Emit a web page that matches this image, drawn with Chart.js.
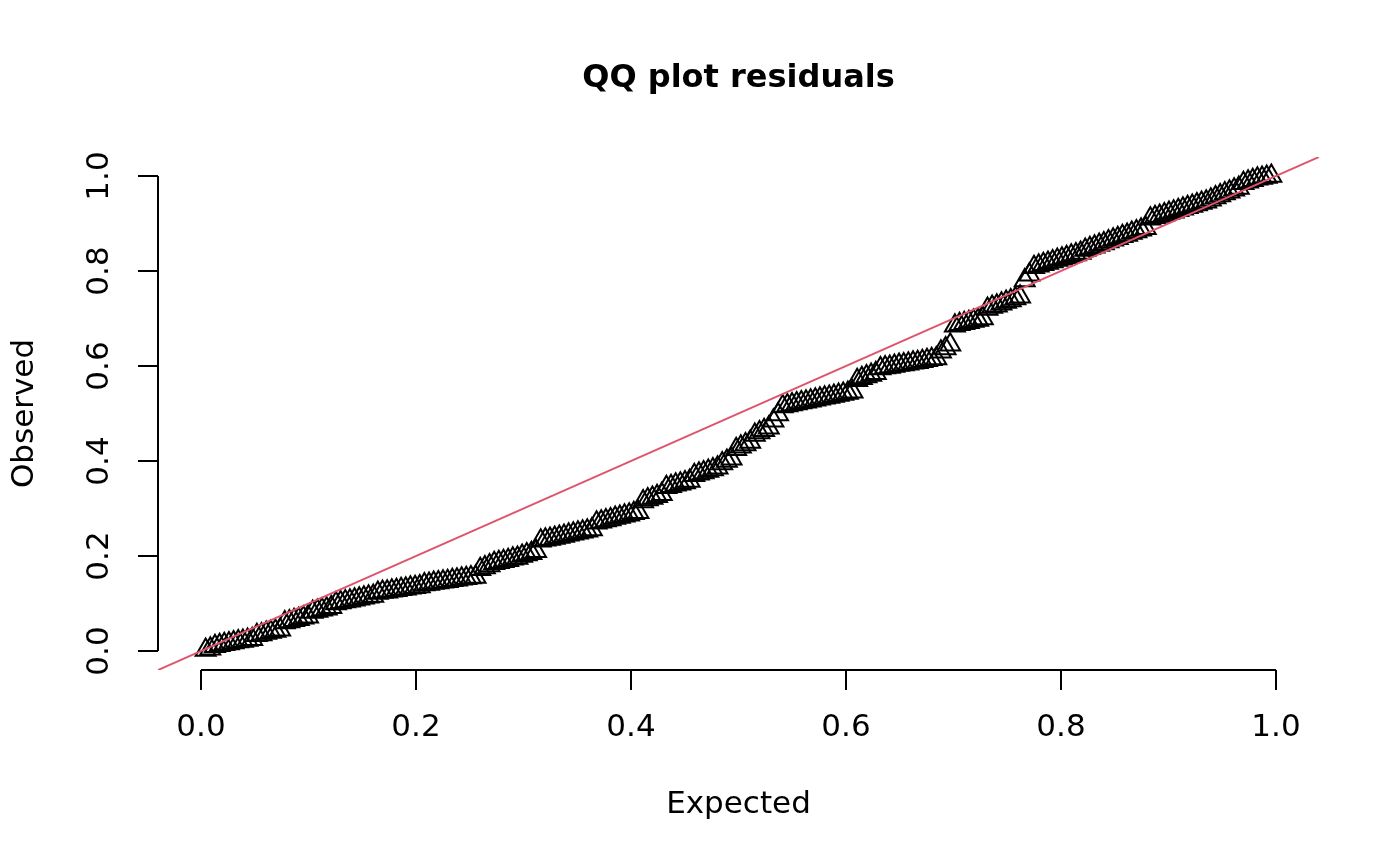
<!DOCTYPE html>
<html>
<head>
<meta charset="utf-8">
<title>QQ plot residuals</title>
<script src="https://cdn.jsdelivr.net/npm/chart.js@4.4.1/dist/chart.umd.min.js"></script>
<style>
    html, body { margin: 0; padding: 0; background: #fff; }
    #wrap { width: 1400px; height: 866px; }
</style>
</head>
<body>
<div id="wrap"><canvas id="qqChart" width="1400" height="866"></canvas></div>
<script>
// Sorted scaled residuals
const observed = [
    0.002, 0.005,
    0.010, 0.012, 0.014, 0.016, 0.018, 0.020, 0.021, 0.023, 0.025,
    0.033, 0.035, 0.038, 0.040, 0.042, 0.045,
    0.060, 0.062, 0.065, 0.067, 0.070, 0.072,
    0.082, 0.084, 0.087, 0.089, 0.092,
    0.100, 0.102, 0.104, 0.106, 0.108, 0.110, 0.112, 0.114, 0.116,
    0.122, 0.124, 0.125, 0.127, 0.128, 0.130, 0.131, 0.133, 0.134, 0.136,
    0.140, 0.141, 0.143, 0.144, 0.146, 0.147, 0.149, 0.150, 0.152, 0.153, 0.155, 0.156,
    0.172, 0.176, 0.180,
    0.185, 0.187, 0.189, 0.191, 0.194, 0.196,
    0.200, 0.203, 0.206, 0.210,
    0.232, 0.234, 0.236, 0.238, 0.240, 0.242, 0.245, 0.247, 0.249, 0.251, 0.253, 0.256,
    0.270, 0.272, 0.275, 0.277, 0.280, 0.282, 0.285, 0.287, 0.290, 0.292,
    0.315, 0.319, 0.322, 0.326, 0.330,
    0.345, 0.347, 0.350, 0.352, 0.355, 0.358,
    0.370, 0.373, 0.376, 0.379, 0.382, 0.386,
    0.395, 0.400, 0.405,
    0.425, 0.430, 0.435, 0.440,
    0.455, 0.460, 0.465, 0.470,
    0.485, 0.498,
    0.515, 0.517, 0.519, 0.521, 0.523, 0.525, 0.527, 0.529, 0.531, 0.533, 0.535, 0.537, 0.539, 0.541, 0.543, 0.546,
    0.570, 0.574, 0.578, 0.581, 0.585,
    0.595, 0.597, 0.598, 0.600, 0.602, 0.603, 0.605, 0.607, 0.608, 0.610, 0.612, 0.614, 0.616,
    0.630, 0.637, 0.645,
    0.685, 0.688, 0.690, 0.692, 0.695, 0.697, 0.700,
    0.720, 0.724, 0.727, 0.731, 0.735, 0.738, 0.742, 0.746,
    0.780, 0.792,
    0.808, 0.811, 0.814, 0.817, 0.820, 0.823, 0.826, 0.829, 0.832, 0.835, 0.838,
    0.844, 0.848, 0.851, 0.855, 0.858, 0.862, 0.866, 0.869, 0.873, 0.876, 0.880, 0.883, 0.887, 0.890,
    0.910, 0.913, 0.916, 0.919, 0.922, 0.925, 0.928, 0.931, 0.934, 0.937, 0.940, 0.943, 0.946, 0.950,
    0.955, 0.959, 0.963, 0.967, 0.971, 0.975,
    0.985, 0.988, 0.991, 0.994, 0.996, 0.998, 1.000
];

const axisTicks = [0, 0.2, 0.4, 0.6, 0.8, 1.0];
const tickLabels = ['0.0', '0.2', '0.4', '0.6', '0.8', '1.0'];
const axisRange = [-0.04, 1.04];   // R pads the data range by 4%
const refLine = [-0.04, 1.04];     // abline(0, 1) across the plot region

const chartTitle = 'QQ plot residuals';
const xTitle = 'Expected';
const yTitle = 'Observed';

// expected uniform quantiles i/(n+1), the x of a uniform QQ plot
const n = observed.length;
const qqPoints = observed.map((v, i) => ({ x: (i + 1) / (n + 1), y: v }));

const FONT = '"DejaVu Sans", "Liberation Sans", sans-serif';

// Draws base-R style axes, labels and title
const baseGraphics = {
    id: 'baseGraphics',
    afterDraw(chart) {
        const { ctx, chartArea, scales: { x, y } } = chart;
        const left = chartArea.left;
        const bottom = chartArea.bottom;
        const tick = 20;

        ctx.save();
        ctx.strokeStyle = '#000';
        ctx.fillStyle = '#000';
        ctx.lineWidth = 2;

        // x axis
        ctx.beginPath();
        ctx.moveTo(x.getPixelForValue(axisTicks[0]), bottom);
        ctx.lineTo(x.getPixelForValue(axisTicks[axisTicks.length - 1]), bottom);
        axisTicks.forEach(t => {
            const px = x.getPixelForValue(t);
            ctx.moveTo(px, bottom);
            ctx.lineTo(px, bottom + tick);
        });
        // y axis
        ctx.moveTo(left, y.getPixelForValue(axisTicks[0]));
        ctx.lineTo(left, y.getPixelForValue(axisTicks[axisTicks.length - 1]));
        axisTicks.forEach(t => {
            const py = y.getPixelForValue(t);
            ctx.moveTo(left, py);
            ctx.lineTo(left - tick, py);
        });
        ctx.stroke();

        ctx.font = '31px ' + FONT;
        ctx.textAlign = 'center';
        ctx.textBaseline = 'middle';
        axisTicks.forEach((t, i) => {
            ctx.fillText(tickLabels[i], x.getPixelForValue(t), bottom + 58);
        });
        axisTicks.forEach((t, i) => {
            ctx.save();
            ctx.translate(left - 58, y.getPixelForValue(t));
            ctx.rotate(-Math.PI / 2);
            ctx.fillText(tickLabels[i], 0, 0);
            ctx.restore();
        });

        // axis titles
        const midX = (chartArea.left + chartArea.right) / 2;
        const midY = (chartArea.top + chartArea.bottom) / 2;
        ctx.fillText(xTitle, midX, bottom + 135);
        ctx.save();
        ctx.translate(left - 133, midY);
        ctx.rotate(-Math.PI / 2);
        ctx.fillText(yTitle, 0, 0);
        ctx.restore();

        // main title
        ctx.font = 'bold 32px ' + FONT;
        ctx.fillText(chartTitle, midX, 79);
        ctx.restore();
    }
};

const ctx = document.getElementById('qqChart').getContext('2d');
new Chart(ctx, {
    type: 'scatter',
    data: {
        datasets: [
            {
                type: 'line',
                label: 'y = x',
                data: refLine.map(v => ({ x: v, y: v })),
                borderColor: '#DF536B',
                borderWidth: 2,
                pointRadius: 0,
                fill: false
            },
            {
                label: 'residuals',
                data: qqPoints,
                pointStyle: 'triangle',
                pointRadius: 11.5,
                pointBorderWidth: 2,
                pointBorderColor: '#000',
                pointBackgroundColor: 'rgba(0,0,0,0)',
                showLine: false
            }
        ]
    },
    options: {
        responsive: false,
        animation: false,
        layout: {
            padding: { left: 158, right: 81, top: 157, bottom: 196 }
        },
        plugins: {
            legend: { display: false },
            tooltip: { enabled: false }
        },
        scales: {
            x: { type: 'linear', min: axisRange[0], max: axisRange[1], display: false },
            y: { type: 'linear', min: axisRange[0], max: axisRange[1], display: false }
        }
    },
    plugins: [baseGraphics]
});
</script>
</body>
</html>
